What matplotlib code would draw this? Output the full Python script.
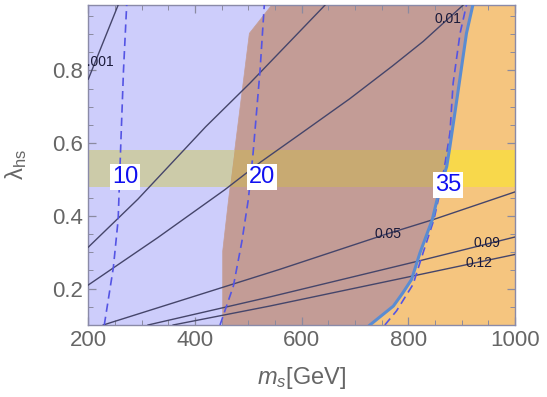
import matplotlib
matplotlib.use("Agg")
import matplotlib.pyplot as plt
from matplotlib.patches import Polygon, Rectangle

plt.rcParams['font.family'] = ['Liberation Sans', 'DejaVu Sans']
plt.rcParams['mathtext.fontset'] = 'custom'
plt.rcParams['mathtext.rm'] = 'Liberation Sans'
plt.rcParams['mathtext.it'] = 'Liberation Sans:italic'

# ---------------- data ----------------
# left edge of the orange (excluded) region, overlaps blue -> brown
edge_m = [452, 452, 463, 502, 544]
edge_l = [0.10, 0.303, 0.445, 0.902, 0.98]

# solid blue boundary
solid_m = [728, 772, 790, 806, 822, 845, 858, 872, 878, 891, 909, 921]
solid_l = [0.10, 0.152, 0.189, 0.225, 0.299, 0.39, 0.47, 0.536, 0.591, 0.72, 0.902, 0.98]

# dashed blue contours (10, 20, 35)
d10_m = [230, 247, 256, 261, 266, 272]
d10_l = [0.10, 0.258, 0.39, 0.60, 0.80, 0.98]
d20_m = [447, 472, 488, 500, 509, 522, 530]
d20_l = [0.10, 0.207, 0.33, 0.445, 0.573, 0.80, 0.98]
d35_m = [756, 778, 809, 828, 848, 860, 869, 878, 884, 897, 909]
d35_l = [0.10, 0.139, 0.212, 0.30, 0.39, 0.47, 0.546, 0.628, 0.765, 0.902, 0.98]

# dark contour lines
cA_m, cA_l = [200, 228, 256], [0.776, 0.878, 0.98]
cB_m, cB_l = [200, 293, 420, 503, 566, 644], [0.314, 0.446, 0.645, 0.765, 0.861, 0.98]
cC_m = [200, 330, 456, 523, 600, 690, 770, 828, 903]
cC_l = [0.21, 0.34, 0.472, 0.548, 0.628, 0.722, 0.812, 0.880, 0.98]
cD_m, cD_l = [228, 559, 759, 847, 1000], [0.10, 0.253, 0.35, 0.39, 0.466]
cE_m, cE_l = [312, 540, 825, 1000], [0.10, 0.177, 0.278, 0.342]
cF_m, cF_l = [359, 540, 803, 1000], [0.10, 0.152, 0.233, 0.294]

contour_labels = ["0.001", "0.01", "0.05", "0.09", "0.12"]
contour_lab_m = [216, 874, 761, 948, 933]
contour_lab_l = [0.824, 0.942, 0.351, 0.326, 0.271]

region_labels = ["10", "20", "35"]
region_lab_m = [269, 526, 874]
region_lab_l = [0.508, 0.508, 0.486]

band = (0.48, 0.58)
xmin, xmax, ymin, ymax = 200, 1000, 0.1, 0.98

# ---------------- figure ----------------
fig = plt.figure(figsize=(5.47, 3.97), dpi=100)
ax = fig.add_axes([0.1614, 0.1814, 0.7801, 0.806])

blue_poly = [(xmin, ymin)] + list(zip(edge_m, edge_l)) + [(xmin, ymax)]
brown_poly = list(zip(edge_m, edge_l)) + list(zip(solid_m, solid_l))[::-1]
orange_poly = list(zip(solid_m, solid_l)) + [(xmax, ymax), (xmax, ymin)]

regions = [
    (blue_poly, '#cdcdfb', '#cccba9'),
    (brown_poly, '#c39c96', '#c8aa72'),
    (orange_poly, '#f5c57f', '#f8d84b'),
]
for pts, col, bcol in regions:
    p = Polygon(pts, closed=True, facecolor=col, edgecolor=col, lw=0.5, zorder=1)
    ax.add_patch(p)
    r = Rectangle((xmin, band[0]), xmax - xmin, band[1] - band[0],
                  facecolor=bcol, edgecolor='none', zorder=2)
    ax.add_patch(r)
    r.set_clip_path(p)

# dark contours
for m, l in [(cA_m, cA_l), (cB_m, cB_l), (cC_m, cC_l), (cD_m, cD_l), (cE_m, cE_l), (cF_m, cF_l)]:
    ax.plot(m, l, color='#45456a', lw=1.0, zorder=3)

for t, m, l in zip(contour_labels, contour_lab_m, contour_lab_l):
    ax.text(m, l, t, fontsize=10, color='#1a1a3a', ha='center', va='center',
            zorder=5, clip_on=True)

# blue dashed and solid
for m, l in [(d10_m, d10_l), (d20_m, d20_l), (d35_m, d35_l)]:
    ax.plot(m, l, color='#5454e4', lw=1.2, dashes=(5, 3), zorder=4)
ax.plot(solid_m, solid_l, color='#5a8cd2', lw=2.2, zorder=4)

for t, m, l in zip(region_labels, region_lab_m, region_lab_l):
    ax.text(m, l, t, fontsize=17, color='#1010f0', ha='center', va='center', zorder=6,
            bbox=dict(boxstyle='square,pad=0.08', facecolor='white', edgecolor='none'))

ax.set_xlim(xmin, xmax)
ax.set_ylim(ymin, ymax)
ax.set_xticks([200, 400, 600, 800, 1000])
ax.set_xticks(range(200, 1001, 50), minor=True)
ax.set_yticks([0.2, 0.4, 0.6, 0.8])
ax.set_yticks([0.1 + 0.05 * i for i in range(18)], minor=True)
ax.tick_params(which='both', direction='in', top=True, right=True,
               color='#8a8aa0', labelcolor='#666666', labelsize=16)
ax.tick_params(which='major', length=6, width=0.9)
ax.tick_params(which='minor', length=3.5, width=0.7)
for s in ax.spines.values():
    s.set_color('#8a8aa8')
    s.set_linewidth(1.0)

ax.set_xlabel('$m_s$[GeV]', fontsize=17, color='#666666', labelpad=10)
ax.set_ylabel(r'λ$_{\rm hs}$', fontsize=17, color='#666666', labelpad=17)

fig.savefig('out.png', dpi=100)
